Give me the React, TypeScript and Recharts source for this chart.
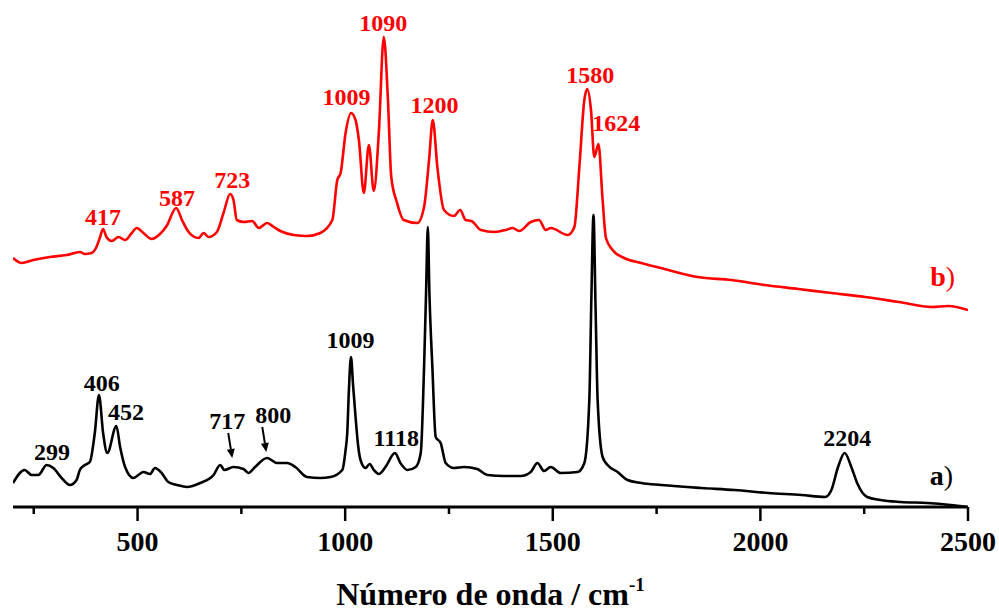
import { LineChart, Line, XAxis, YAxis, ReferenceDot, Label } from "recharts";

// spectrum a) (black)
const waveA = [
  200, 228, 245, 261, 281, 297, 317, 337, 353, 361, 373, 385, 397, 407, 417, 427, 449, 458, 470, 490,
  502, 514, 530, 542, 558, 574, 595, 619, 651, 683, 699, 709, 731, 755, 767, 783, 812, 836, 860, 880,
  908, 940, 965, 993, 1001, 1005, 1009, 1014, 1019, 1025, 1031, 1037, 1049, 1059, 1069, 1081, 1097,
  1120, 1133, 1150, 1170, 1182, 1190, 1195, 1199, 1203, 1210, 1218, 1230, 1242, 1262, 1286, 1318,
  1343, 1383, 1423, 1447, 1463, 1479, 1495, 1519, 1560, 1576, 1588, 1593, 1598, 1603, 1608, 1620,
  1632, 1656, 1680, 1713, 1761, 1858, 1938, 2019, 2099, 2156, 2171, 2187, 2203, 2219, 2233, 2257,
  2289, 2338, 2402, 2458, 2498,
];
const intensityA = [
  24, 37, 32, 32, 42, 39, 29, 22, 27, 37, 42, 45, 74, 112, 74, 54, 81, 60, 40, 29,
  32, 35, 33, 39, 34, 25, 22, 20, 24, 32, 42, 37, 40, 38, 34, 40, 49, 44, 44, 40,
  30, 29, 30, 37, 57, 74, 117, 150, 122, 90, 62, 47, 39, 43, 37, 33, 40,
  54, 44, 37, 40, 54, 140, 217, 280, 212, 140, 70, 64, 44, 39, 40, 38,
  32, 31, 31, 35, 44, 36, 40, 34, 35, 44, 107, 210, 292, 200, 107, 50,
  42, 35, 27, 24, 22, 19, 17, 14, 12, 10, 17, 40, 54, 40, 24, 10,
  7, 5, 4, 2, 0,
];

// spectrum b) (red)
const waveB = [
  200, 221, 249, 289, 329, 361, 373, 389, 401, 409, 417, 425, 438, 454, 470, 486, 498, 514, 534, 554,
  570, 593, 607, 623, 647, 659, 671, 691, 707, 723, 731, 739, 756, 776, 792, 812, 828, 844, 876, 908,
  940, 969, 981, 989, 1001, 1014, 1025, 1033, 1045, 1057, 1069, 1081, 1093, 1103, 1111, 1125, 1141,
  1174, 1190, 1202, 1211, 1222, 1238, 1262, 1277, 1290, 1304, 1327, 1359, 1387, 1403, 1419, 1447,
  1467, 1483, 1495, 1536, 1552, 1564, 1576, 1583, 1592, 1600, 1610, 1620, 1628, 1644, 1672, 1713,
  1769, 1849, 1930, 2010, 2091, 2171, 2252, 2333, 2413, 2453, 2500,
];
const intensityB = [
  249, 244, 247, 250, 252, 255, 253, 254, 260, 269, 278, 270, 266, 270, 267, 274, 279, 274, 268, 273,
  281, 299, 287, 275, 269, 274, 270, 275, 294, 313, 307, 287, 285, 286, 279, 284, 280, 276, 272, 271,
  274, 287, 327, 334, 374, 394, 387, 367, 314, 362, 316, 374, 470, 407, 330, 304, 287,
  284, 300, 347, 387, 340, 297, 291, 297, 287, 286, 277, 275, 277, 279, 276, 285,
  287, 277, 279, 272, 280, 340, 407, 418, 397, 350, 363, 307, 269, 257, 249, 244,
  238, 230, 227, 222, 218, 214, 210, 205, 200, 201, 197,
];

const xTicks = [250, 500, 750, 1000, 1250, 1500, 1750, 2000, 2250, 2500];

// peak annotations: text, anchor wavenumber, anchor intensity
const peakLabelsA = [
  { text: "299", x: 294, y: 55 },
  { text: "406", x: 414, y: 124 },
  { text: "452", x: 472, y: 95 },
  { text: "717", x: 716, y: 86 },
  { text: "800", x: 827, y: 92 },
  { text: "1009", x: 1013, y: 167 },
  { text: "1118", x: 1123, y: 69 },
  { text: "2204", x: 2209, y: 69 },
];
const arrowTipsA = [
  { x: 728, y: 49 },
  { x: 810, y: 55 },
];
const peakLabelsB = [
  { text: "417", x: 417, y: 290 },
  { text: "587", x: 595, y: 309 },
  { text: "723", x: 728, y: 327 },
  { text: "1009", x: 1003, y: 410 },
  { text: "1090", x: 1092, y: 484 },
  { text: "1200", x: 1215, y: 402 },
  { text: "1580", x: 1590, y: 432 },
  { text: "1624", x: 1653, y: 384 },
];
const seriesTags = [
  { text: "a", x: 2436, y: 32, color: "#000000" },
  { text: "b", x: 2439, y: 231, color: "#ff0000" },
];

const spectrumA = waveA.map((x, i) => ({ x, y: intensityA[i] }));
const spectrumB = waveB.map((x, i) => ({ x, y: intensityB[i] }));

const FONT = "'Liberation Serif', 'Times New Roman', serif";

const AxisTick = (props: any) => {
  const { x, y, payload } = props;
  const major = payload.value % 500 === 0;
  return (
    <g>
      <line x1={x} x2={x} y1={y} y2={y + (major ? 14 : 7)} stroke="#000" strokeWidth={2.5} />
      {major && (
        <text x={x} y={y + 44} textAnchor="middle" fontFamily={FONT} fontWeight="bold" fontSize={28} fill="#000">
          {payload.value}
        </text>
      )}
    </g>
  );
};

const peakText = (text: string, color: string) => (p: any) => (
  <text x={p.cx} y={p.cy} dy="0.35em" textAnchor="middle" fontFamily={FONT} fontWeight="bold" fontSize={24} fill={color}>
    {text}
  </text>
);

const arrowShape = (p: any) => {
  const tx = p.cx;
  const ty = p.cy;
  const sx = tx - 4;
  const sy = ty - 25;
  const len = Math.hypot(tx - sx, ty - sy);
  const dx = (tx - sx) / len;
  const dy = (ty - sy) / len;
  const bx = tx - dx * 9;
  const by = ty - dy * 9;
  return (
    <g>
      <line x1={sx} y1={sy} x2={bx} y2={by} stroke="#000" strokeWidth={2} />
      <polygon
        points={`${tx},${ty} ${bx - dy * 4},${by + dx * 4} ${bx + dy * 4},${by - dx * 4}`}
        fill="#000"
      />
    </g>
  );
};

const tagShape = (text: string, color: string) => (p: any) => (
  <text x={p.cx} y={p.cy} dy="0.35em" textAnchor="middle" fontFamily={FONT} fontSize={28} fill={color}>
    <tspan fontWeight="bold">{text}</tspan>
    <tspan>)</tspan>
  </text>
);

const AxisTitle = (props: any) => {
  const { x, y, width } = props.viewBox;
  return (
    <text x={x + width / 2} y={y + 98} textAnchor="middle" fontFamily={FONT} fontWeight="bold" fontSize={32} fill="#000">
      Número de onda / cm
      <tspan fontSize={19} dy={-14}>-1</tspan>
    </text>
  );
};

export default function App() {
  return (
    <div style={{ width: 999, height: 613, background: "#fff" }}>
      <style>{"body{margin:0}"}</style>
      <LineChart width={999} height={613} margin={{ top: 7, right: 31, bottom: 0, left: 13 }}>
        <XAxis
          type="number"
          dataKey="x"
          domain={[200, 2500]}
          ticks={xTicks}
          interval={0}
          allowDataOverflow
          tickLine={false}
          tickSize={0}
          tickMargin={0}
          tick={<AxisTick />}
          axisLine={{ stroke: "#000", strokeWidth: 3 }}
          height={106}
        >
          <Label content={<AxisTitle />} />
        </XAxis>
        <YAxis type="number" domain={[0, 500]} hide allowDataOverflow />
        <Line
          data={spectrumB}
          dataKey="y"
          type="monotone"
          stroke="#ff0000"
          strokeWidth={2.6}
          dot={false}
          isAnimationActive={false}
        />
        <Line
          data={spectrumA}
          dataKey="y"
          type="monotone"
          stroke="#000000"
          strokeWidth={2.6}
          dot={false}
          isAnimationActive={false}
        />
        {peakLabelsA.map((p) => (
          <ReferenceDot key={"a" + p.text} x={p.x} y={p.y} r={0} shape={peakText(p.text, "#000000")} />
        ))}
        {peakLabelsB.map((p) => (
          <ReferenceDot key={"b" + p.text} x={p.x} y={p.y} r={0} shape={peakText(p.text, "#ff0000")} />
        ))}
        {arrowTipsA.map((p) => (
          <ReferenceDot key={"arr" + p.x} x={p.x} y={p.y} r={0} shape={arrowShape} />
        ))}
        {seriesTags.map((t) => (
          <ReferenceDot key={"tag" + t.text} x={t.x} y={t.y} r={0} shape={tagShape(t.text, t.color)} />
        ))}
      </LineChart>
    </div>
  );
}
